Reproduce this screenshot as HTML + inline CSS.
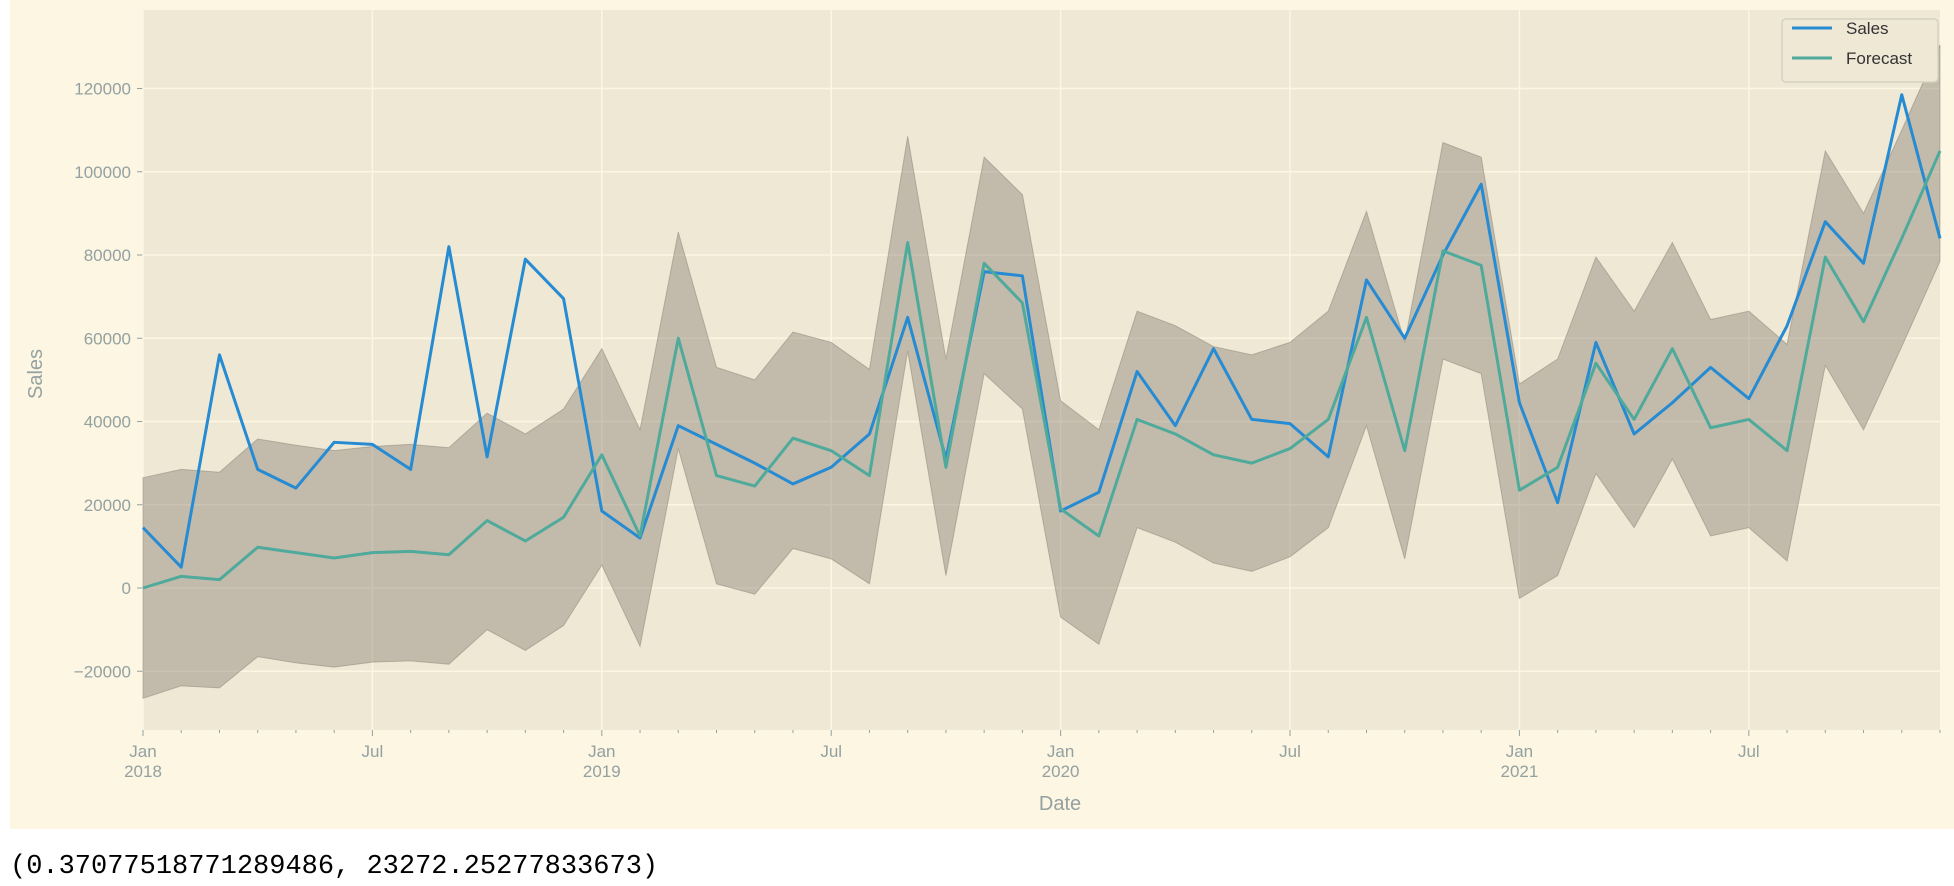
<!DOCTYPE html>
<html><head><meta charset="utf-8">
<style>
html,body{margin:0;padding:0;background:#fff;}
body{width:1954px;height:886px;overflow:hidden;position:relative;font-family:"Liberation Sans",sans-serif;}
#out{position:absolute;left:10px;top:852px;font-family:"Liberation Mono",monospace;font-size:27px;color:#000;}
</style></head><body>
<svg id="chart" width="1954" height="830" style="position:absolute;left:0;top:0">
<rect x="10" y="0" width="1944" height="829" fill="#fdf6e3"/>
<g id="plot"></g>
</svg>
<div id="out">(0.37077518771289486, 23272.25277833673)</div>
<script>
const sales=[14500,5000,56000,28500,24000,35000,34500,28500,82000,31500,79000,69500,
18500,12000,39000,34500,30000,25000,29000,37000,65000,31000,76000,75000,
18500,23000,52000,39000,57500,40500,39500,31500,74000,60000,80000,97000,
44500,20500,59000,37000,44500,53000,45500,63000,88000,78000,118500,84000];
const forecast=[0,2800,2000,9800,8500,7200,8500,8800,8000,16200,11300,17000,
32000,12500,60000,27000,24500,36000,33000,27000,83000,29000,78000,68500,
19000,12500,40500,37000,32000,30000,33500,40500,65000,33000,81000,77500,
23500,29000,54000,40500,57500,38500,40500,33000,79500,64000,84000,105000];
const upper=[26500,28500,27800,35800,34300,33000,34000,34500,33700,42000,37000,43000,
57500,38000,85500,53000,50000,61500,59000,52500,108500,55000,103500,94500,
45000,38000,66500,63000,58000,56000,59000,66500,90500,59000,107000,103500,
49000,55000,79500,66500,83000,64500,66500,58500,105000,90000,110000,130500];
const lower=[-26500,-23500,-24000,-16500,-18000,-19000,-17800,-17500,-18300,-10000,-15000,-9000,
5500,-14000,33500,1000,-1500,9500,7000,1000,57000,3000,51500,43000,
-7000,-13500,14500,11000,6000,4000,7500,14500,39000,7000,55000,51500,
-2500,3000,27500,14500,31000,12500,14500,6500,53500,38000,58000,78500];
const yTicks=[-20000,0,20000,40000,60000,80000,100000,120000];
const xMajor=[[0,"Jan","2018"],[6,"Jul",""],[12,"Jan","2019"],[18,"Jul",""],[24,"Jan","2020"],[30,"Jul",""],[36,"Jan","2021"],[42,"Jul",""]];

const L=143,R=1940,T=10,B=730;
const y0=588, pxPer=(588-88.5)/120000;
const Y=v=>y0-v*pxPer;
const X=i=>L+(R-L)*i/(sales.length-1);
const ns="http://www.w3.org/2000/svg";
const g=document.getElementById('plot');
function mk(tag,attrs,parent){const e=document.createElementNS(ns,tag);for(const k in attrs)e.setAttribute(k,attrs[k]);(parent||g).appendChild(e);return e;}

const bg=mk('rect',{x:L,y:T,width:R-L,height:B-T,fill:"#eee8d5"});


// grid
yTicks.forEach(v=>{
 const l=mk('line',{x1:L,x2:R,y1:Y(v),y2:Y(v),stroke:"#fdf6e3","stroke-width":1.5});
 
 
 const tk=mk('line',{x1:L-6,x2:L,y1:Y(v),y2:Y(v),stroke:"#93a1a1","stroke-width":1});
 
 
 const t=mk('text',{x:L-12,y:Y(v)+6,"text-anchor":"end","font-size":17,fill:"#93a1a1"});
 t.textContent=(v<0?"\u2212"+(-v):String(v));
 
 
});
xMajor.forEach(m=>{
 const x=X(m[0]);
 const l=mk('line',{x1:x,x2:x,y1:T,y2:B,stroke:"#fdf6e3","stroke-width":1.5});
 
 
 const t=mk('text',{x:x,y:B+27,"text-anchor":"middle","font-size":17,fill:"#93a1a1"});
 t.textContent=m[1];
 
 
 if(m[2]){const t2=mk('text',{x:x,y:B+47,"text-anchor":"middle","font-size":17,fill:"#93a1a1"});t2.textContent=m[2];
 
 }
});
for(let i=0;i<sales.length;i++){
 const tk=mk('line',{x1:X(i),x2:X(i),y1:B,y2:B+(i%6==0?6:3),stroke:"#93a1a1","stroke-width":1});
 
 
}
// band
let d="M"+upper.map((v,i)=>X(i)+","+Y(v)).join(" L");
for(let i=lower.length-1;i>=0;i--)d+=" L"+X(i)+","+Y(lower[i]);
d+="Z";
const band=mk('path',{d:d,fill:"#8b8478","fill-opacity":0.45,stroke:"#8b8478","stroke-opacity":0.5,"stroke-width":1});


function line(arr,col,name){
 const p=mk('polyline',{points:arr.map((v,i)=>X(i)+","+Y(v)).join(" "),fill:"none",stroke:col,"stroke-width":3,"stroke-linejoin":"round"});
 
 
}
line(sales,"#268bd2","sales-line");
line(forecast,"#4faa9c","forecast-line");
// axis labels
const yl=mk('text',{x:42,y:374,"text-anchor":"middle","font-size":20,fill:"#93a1a1",transform:"rotate(-90 42 374)"});
yl.textContent="Sales";


const xl=mk('text',{x:1060,y:810,"text-anchor":"middle","font-size":20,fill:"#93a1a1"});
xl.textContent="Date";


// legend
const lg=mk('g',{});


mk('rect',{x:1782,y:19,width:156,height:63,rx:4,fill:"#eee8d5",stroke:"#d5d0c0","stroke-width":1.5},lg);
[["Sales","#268bd2",34],["Forecast","#4faa9c",64]].forEach(e=>{
 const s=mk('line',{x1:1792,x2:1832,y1:e[2]-6,y2:e[2]-6,stroke:e[1],"stroke-width":3},lg);
 
 
 const t=mk('text',{x:1846,y:e[2],"font-size":17,fill:"#333"},lg);
 t.textContent=e[0];
 
 
});
</script>
</body></html>
